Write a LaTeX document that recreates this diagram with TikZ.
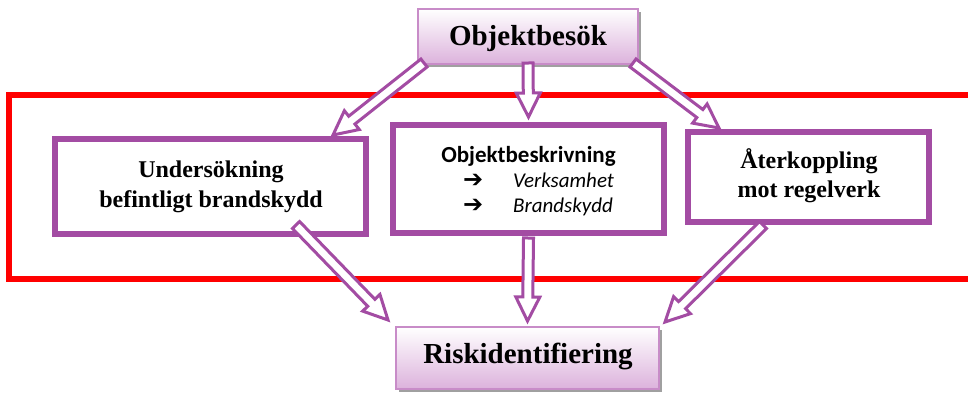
\documentclass[tikz,border=0pt]{standalone}
\usepackage{fontspec}
\setmainfont{Liberation Serif}
\newfontfamily\calfont{Carlito}
\newfontfamily\symfont{DejaVu Sans}
\usetikzlibrary{calc,shadows}
\definecolor{boxpurple}{RGB}{163,76,163}
\definecolor{lightborder}{RGB}{200,140,200}
\definecolor{fillbottom}{RGB}{220,178,220}
\definecolor{shadowgray}{RGB}{160,160,160}
\newcommand\hollowarrow[2]{%
  \coordinate (hh) at ($(#2)!24pt!(#1)$);
  \draw[harrow] ($(#1)!5pt!90:(#2)$) -- ($(hh)!5pt!90:(#2)$) -- ($(hh)!12pt!90:(#2)$) -- (#2)
     -- ($(hh)!12pt!-90:(#2)$) -- ($(hh)!5pt!-90:(#2)$) -- ($(#1)!5pt!-90:(#2)$) -- cycle;}
\begin{document}
\begin{tikzpicture}[x=1pt,y=-1pt,
  shadebox/.style={draw=lightborder, line width=2pt, top color=white, bottom color=fillbottom,
    drop shadow={shadow xshift=3pt, shadow yshift=-3pt, fill=shadowgray, opacity=1},
    inner sep=0pt},
  plainbox/.style={draw=boxpurple, line width=6pt, fill=white, inner sep=0pt},
  harrow/.style={draw=boxpurple, line width=3pt, fill=white, line join=miter},
  bigtext/.style={font=\fontsize{29}{34}\selectfont\bfseries, inner sep=0pt, anchor=base},
  midtext/.style={font=\fontsize{24}{29}\selectfont\bfseries, inner sep=0pt, anchor=base},
  caltext/.style={font=\fontsize{22}{26}\selectfont\calfont, inner sep=0pt},
  bularrow/.style={inner sep=0pt, anchor=base west, font=\fontsize{24}{28}\selectfont\symfont\bfseries}]
\clip (0,0) rectangle (968,392);
\fill[white] (0,0) rectangle (968,392);
% red frame
\draw[red, line width=6pt] (1000,95) -- (9,95) -- (9,279) -- (1000,279);
% boxes
\node[shadebox, minimum width=220pt, minimum height=55pt] (top) at (528,36.5) {};
\node[shadebox, minimum width=263pt, minimum height=62pt] (bottom) at (527.5,358) {};
\node[plainbox, minimum width=311pt, minimum height=95pt] (left) at (210.5,186.5) {};
\node[plainbox, minimum width=271pt, minimum height=108pt] (mid) at (528.5,179) {};
\node[plainbox, minimum width=241pt, minimum height=90pt] (right) at (808.5,177) {};
% texts
\node[bigtext] (toptext) at (528,45) {Objektbesök};
\node[bigtext] (bottomtext) at (528,363) {Riskidentifiering};
\node[midtext] (l1) at (211,177) {Undersökning};
\node[midtext] (l2) at (211,207) {befintligt brandskydd};
\node[midtext] (r1) at (809,168) {Återkoppling};
\node[midtext] (r2) at (809,197) {mot regelverk};
\node[caltext, anchor=base, font=\fontsize{23}{27}\selectfont\calfont\bfseries] (m0) at (528.5,162) {Objektbeskrivning};
\node[bularrow] (a1) at (463,187) {➔};
\node[caltext, anchor=base west, font=\fontsize{21}{25}\selectfont\calfont\itshape] (m1) at (513,187) {Verksamhet};
\node[bularrow] (a2) at (463,212) {➔};
\node[caltext, anchor=base west, font=\fontsize{21}{25}\selectfont\calfont\itshape] (m2) at (513,212) {Brandskydd};
% connector end points
\coordinate (s1) at ($(top.south west)+(7,-2)$);
\coordinate (e1) at ($(left.north east)+(-36,-1)$);
\coordinate (s2) at ($(top.south)+(0,-2)$);
\coordinate (e2) at ($(mid.north)+(0,-5)$);
\coordinate (s3) at ($(top.south east)+(-6,-2)$);
\coordinate (e3) at ($(right.north west)+(34,-1)$);
\coordinate (s4) at ($(left.south east)+(-73,-12)$);
\coordinate (e4) at ($(bottom.north west)+(-7,-6)$);
\coordinate (s5) at ($(mid.south)+(0,2)$);
\coordinate (e5) at ($(bottom.north)+(0,-5)$);
\coordinate (s6) at ($(right.south west)+(78,0)$);
\coordinate (e6) at ($(bottom.north east)+(5,-4)$);
\hollowarrow{s1}{e1}
\hollowarrow{s2}{e2}
\hollowarrow{s3}{e3}
\hollowarrow{s4}{e4}
\hollowarrow{s5}{e5}
\hollowarrow{s6}{e6}
\end{tikzpicture}
\end{document}
